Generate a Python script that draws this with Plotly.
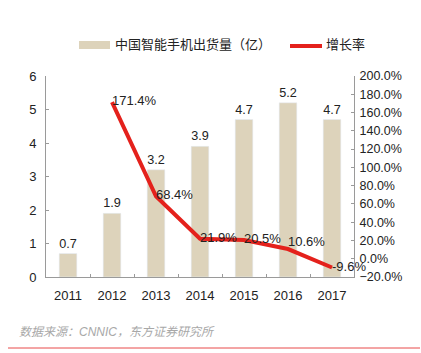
import plotly.graph_objects as go

years = ["2011", "2012", "2013", "2014", "2015", "2016", "2017"]
shipments = [0.7, 1.9, 3.2, 3.9, 4.7, 5.2, 4.7]
growth_years = ["2012", "2013", "2014", "2015", "2016", "2017"]
growth = [171.4, 68.4, 21.9, 20.5, 10.6, -9.6]
bar_name = "中国智能手机出货量（亿）"
line_name = "增长率"
source = "数据来源：CNNIC，东方证券研究所"

FONT = "Liberation Sans, Noto Sans CJK SC, sans-serif"
BEIGE = "#DDD3BB"
RED = "#E4211C"

fig = go.Figure()
fig.add_trace(go.Bar(
    x=years, y=shipments, name=bar_name, marker_color=BEIGE, width=0.4,
    text=[f"{v:.1f}" for v in shipments], textposition="outside",
    textfont=dict(size=13, color="#222"), cliponaxis=False, showlegend=False,
))
fig.add_trace(go.Scatter(
    x=growth_years, y=growth, name=line_name, yaxis="y2", mode="lines+text",
    line=dict(color=RED, width=4),
    text=[f"{v:.1f}%" for v in growth],
    textposition=["middle right", "middle right", "middle right", "middle right", "top right", "middle right"],
    textfont=dict(size=13, color="#222"), cliponaxis=False, showlegend=False,
))

axis_common = dict(showgrid=False, zeroline=False, showline=True, linecolor="#9A9A9A",
                   ticks="inside", tickcolor="#9A9A9A", ticklen=3,
                   tickfont=dict(size=13, color="#222"))

fig.update_layout(
    width=421, height=353, margin=dict(l=46, r=67, t=76, b=76),
    paper_bgcolor="white", plot_bgcolor="white",
    font=dict(family=FONT, color="#222"),
    bargap=0.6,
    xaxis=dict(**axis_common, tickson="boundaries", ticklabelstandoff=6),
    yaxis=dict(**axis_common, range=[0, 6], dtick=1, ticklabelstandoff=6),
    yaxis2=dict(showgrid=False, zeroline=False, showline=True, linecolor="#9A9A9A",
                ticks="inside", tickcolor="#9A9A9A", ticklen=3,
                tickfont=dict(size=12.5, color="#222"),
                overlaying="y", side="right", range=[-20, 200], dtick=20,
                tickformat=".1f", ticksuffix="%", ticklabelstandoff=2),
)

# custom legend
fig.add_shape(type="rect", xref="paper", yref="paper",
              x0=(79 - 46) / 308, x1=(110 - 46) / 308,
              y0=(277 - 41) / 201, y1=(277 - 49) / 201,
              fillcolor=BEIGE, line_width=0)
fig.add_annotation(xref="paper", yref="paper", x=(113 - 46) / 308, y=(277 - 45) / 201,
                   text=bar_name, showarrow=False, xanchor="left", yanchor="middle",
                   font=dict(size=13, color="#222"))
fig.add_shape(type="line", xref="paper", yref="paper",
              x0=(290 - 46) / 308, x1=(322 - 46) / 308,
              y0=(277 - 46) / 201, y1=(277 - 46) / 201,
              line=dict(color=RED, width=4))
fig.add_annotation(xref="paper", yref="paper", x=(324 - 46) / 308, y=(277 - 45) / 201,
                   text=line_name, showarrow=False, xanchor="left", yanchor="middle",
                   font=dict(size=13, color="#222"))
# footer
fig.add_annotation(xref="paper", yref="paper", x=(17 - 46) / 308, y=(277 - 332) / 201,
                   text=f"<i>{source}</i>", showarrow=False, xanchor="left", yanchor="middle",
                   font=dict(size=12, color="#A8A8A8"))
fig.add_shape(type="line", xref="paper", yref="paper",
              x0=(8 - 46) / 308, x1=(420 - 46) / 308,
              y0=(277 - 348) / 201, y1=(277 - 348) / 201,
              line=dict(color="#E84B4B", width=1))

fig.write_html("out.html")
